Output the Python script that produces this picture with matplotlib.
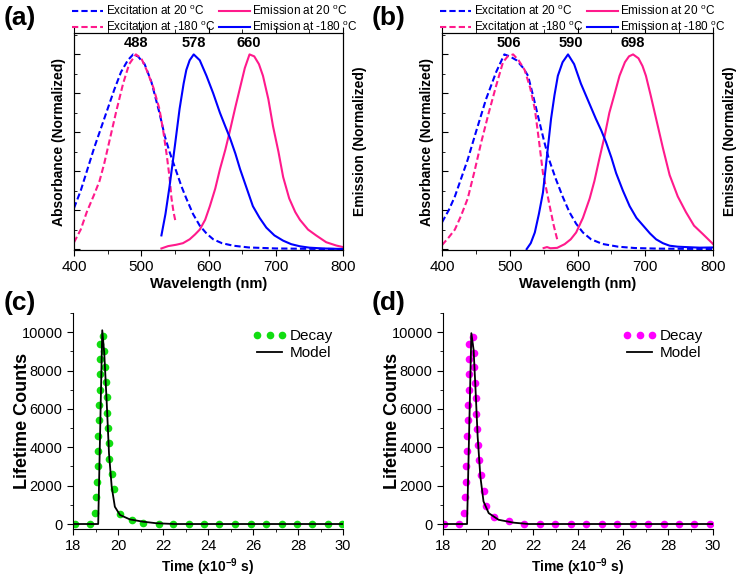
import matplotlib
matplotlib.use('Agg')
import matplotlib.pyplot as plt
from matplotlib.ticker import MultipleLocator, NullFormatter

plt.rcParams['font.family'] = ['Liberation Sans', 'DejaVu Sans']
plt.rcParams['mathtext.fontset'] = 'custom'
plt.rcParams['mathtext.rm'] = 'Liberation Sans'
plt.rcParams['mathtext.bf'] = 'Liberation Sans:bold'

BLUE = '#0000ff'
PINK = '#ff1a8c'

# ---- panel (a) spectra ----
a_exc20_x = [400, 410, 420, 430, 440, 450, 460, 470, 480, 488, 495, 505, 515, 527, 535, 542, 550,
             560, 567, 577, 587, 597, 607, 620, 637, 660, 700, 750, 800]
a_exc20_y = [0.21, 0.30, 0.41, 0.52, 0.62, 0.72, 0.82, 0.91, 0.97, 1.0, 0.99, 0.95, 0.86, 0.70, 0.58,
             0.50, 0.42, 0.32, 0.26, 0.18, 0.12, 0.08, 0.05, 0.03, 0.017, 0.008, 0.003, 0.001, 0.0]
a_exc180_x = [400, 410, 419, 430, 438, 445, 453, 463, 473, 482, 492, 500, 508, 518, 527, 533, 538,
              542, 545, 548, 551]
a_exc180_y = [0.034, 0.10, 0.19, 0.28, 0.35, 0.44, 0.56, 0.71, 0.85, 0.95, 1.0, 0.98, 0.92, 0.83,
              0.72, 0.60, 0.48, 0.37, 0.26, 0.19, 0.14]
a_em180_x = [530, 536, 542, 550, 557, 563, 567, 572, 578, 587, 597, 607, 617, 625, 632, 640, 647,
             656, 666, 676, 686, 698, 711, 723, 736, 750, 770, 800]
a_em180_y = [0.07, 0.18, 0.32, 0.53, 0.72, 0.85, 0.92, 0.97, 1.0, 0.97, 0.89, 0.80, 0.70, 0.63, 0.57,
             0.49, 0.41, 0.32, 0.22, 0.16, 0.11, 0.07, 0.043, 0.025, 0.014, 0.007, 0.003, 0.0]
a_em20_x = [530, 540, 552, 562, 572, 580, 587, 595, 602, 610, 617, 625, 632, 640, 647, 654, 661,
            668, 675, 681, 689, 696, 704, 711, 720, 729, 736, 748, 760, 775, 790, 800]
a_em20_y = [0.003, 0.015, 0.022, 0.03, 0.05, 0.075, 0.10, 0.15, 0.22, 0.31, 0.41, 0.51, 0.61, 0.73,
            0.83, 0.93, 1.0, 0.99, 0.95, 0.89, 0.77, 0.63, 0.50, 0.37, 0.26, 0.19, 0.15, 0.10, 0.07,
            0.035, 0.018, 0.01]
a_peaks = [492, 578, 660]
a_peak_labels = ['488', '578', '660']

# ---- panel (b) spectra ----
b_exc20_x = [400, 410, 419, 428, 438, 450, 465, 480, 492, 500, 510, 520, 527, 535, 544, 551, 558,
             568, 578, 588, 598, 608, 620, 637, 660, 685, 720, 800]
b_exc20_y = [0.137, 0.20, 0.27, 0.36, 0.46, 0.60, 0.77, 0.91, 1.0, 0.99, 0.97, 0.93, 0.89, 0.78,
             0.65, 0.55, 0.46, 0.36, 0.27, 0.19, 0.13, 0.085, 0.05, 0.026, 0.012, 0.005, 0.002, 0.0]
b_exc180_x = [400, 410, 419, 428, 438, 448, 458, 469, 480, 490, 497, 505, 513, 522, 530, 537, 543,
              549, 555, 559, 565, 570]
b_exc180_y = [0.02, 0.06, 0.10, 0.17, 0.26, 0.40, 0.55, 0.70, 0.84, 0.96, 0.99, 1.0, 0.97, 0.92,
              0.83, 0.72, 0.56, 0.39, 0.29, 0.22, 0.12, 0.05]
b_em180_x = [525, 531, 537, 543, 549, 555, 561, 566, 571, 578, 586, 595, 605, 616, 627, 635, 642,
             650, 657, 667, 677, 687, 697, 707, 716, 726, 736, 748, 760, 780, 800]
b_em180_y = [0.0, 0.03, 0.085, 0.18, 0.29, 0.48, 0.67, 0.79, 0.89, 0.96, 1.0, 0.95, 0.85, 0.76,
             0.67, 0.61, 0.55, 0.47, 0.39, 0.30, 0.22, 0.16, 0.12, 0.08, 0.05, 0.03, 0.017, 0.012,
             0.010, 0.007, 0.008]
b_em20_x = [550, 555, 560, 570, 581, 590, 598, 608, 618, 625, 632, 640, 647, 655, 662, 670, 676,
            682, 690, 696, 701, 708, 716, 726, 736, 748, 760, 772, 785, 800]
b_em20_y = [0.005, 0.01, 0.004, 0.006, 0.025, 0.05, 0.085, 0.16, 0.26, 0.35, 0.46, 0.58, 0.70,
            0.80, 0.89, 0.96, 0.99, 1.0, 0.98, 0.94, 0.89, 0.79, 0.67, 0.52, 0.38, 0.27, 0.19, 0.12,
            0.077, 0.026]
b_peaks = [499, 590, 682]
b_peak_labels = ['506', '590', '698']

# ---- panel (c) lifetime ----
c_decay_t = [18.10, 18.74, 18.99, 19.02, 19.06, 19.09, 19.10, 19.12, 19.15, 19.16, 19.18, 19.19,
             19.20, 19.22, 19.35, 19.40, 19.43, 19.48, 19.49, 19.51, 19.55, 19.58, 19.61, 19.73,
             19.80, 20.10, 20.62, 21.10, 21.80, 22.46, 23.14, 23.82, 24.50, 25.20, 25.89, 26.57,
             27.27, 27.96, 28.64, 29.33, 29.97]
c_decay_n = [0, 0, 600, 1400, 2200, 3000, 3800, 4600, 5400, 6200, 7000, 7800, 8600, 9400, 9800,
             9000, 8200, 7400, 6600, 5800, 5000, 4200, 3400, 2600, 1800, 500, 200, 50, 0, 0, 0, 0,
             0, 0, 0, 0, 0, 0, 0, 0, 0]
c_model_t = [18.0, 19.12, 19.30, 19.39, 19.50, 19.60, 19.72, 19.86, 20.09, 20.53, 21.12, 21.71,
             22.5, 30.0]
c_model_n = [0, 0, 10100, 8890, 6290, 3680, 1940, 900, 470, 240, 120, 40, 0, 0]

# ---- panel (d) lifetime ----
d_decay_t = [18.06, 18.70, 18.95, 18.99, 19.02, 19.04, 19.07, 19.08, 19.11, 19.11, 19.14, 19.16,
             19.16, 19.17, 19.32, 19.36, 19.38, 19.44, 19.45, 19.47, 19.51, 19.56, 19.61, 19.70,
             19.81, 19.93, 20.25, 20.92, 21.61, 22.30, 22.99, 23.67, 24.37, 25.07, 25.75, 26.43,
             27.13, 27.81, 28.50, 29.17, 29.85]
d_decay_n = [0, 0, 600, 1400, 2200, 3000, 3800, 4600, 5400, 6200, 7000, 7800, 8600, 9400, 9740,
             8940, 8160, 7340, 6560, 5750, 4950, 4130, 3320, 2530, 1740, 950, 350, 140, 0, 0, 0, 0,
             0, 0, 0, 0, 0, 0, 0, 0, 0]
d_model_t = [18.0, 19.07, 19.26, 19.36, 19.44, 19.54, 19.66, 19.80, 20.03, 20.47, 21.14, 21.8,
             30.0]
d_model_n = [0, 0, 9950, 9080, 7170, 4560, 2480, 1180, 570, 220, 70, 0, 0]

W, H = 740, 581
fig = plt.figure(figsize=(W / 100, H / 100), dpi=100)


def box(l, t, r, b):
    # pixel box (top-left origin) -> figure fraction
    return [l / W, 1 - b / H, (r - l) / W, (b - t) / H]


def spectra(rect, exc20, exc180, em20, em180, peaks, labels):
    ax = fig.add_axes(rect)
    dash = (3, 1.5)
    l1, = ax.plot(*exc20, color=BLUE, lw=1.5, dashes=dash, label='Excitation at 20 $^{\\rm o}$C')
    l2, = ax.plot(*exc180, color=PINK, lw=1.5, dashes=dash, label='Excitation at -180 $^{\\rm o}$C')
    l3, = ax.plot(*em20, color=PINK, lw=1.5, label='Emission at 20 $^{\\rm o}$C')
    l4, = ax.plot(*em180, color=BLUE, lw=1.5, label='Emission at -180 $^{\\rm o}$C')
    for x, s in zip(peaks, labels):
        ax.text(x, 1.025, s, ha='center', va='bottom', fontsize=10.5, fontweight='bold')
    ax.set_xlim(400, 800)
    ax.set_ylim(-0.005, 1.11)
    ax.xaxis.set_major_locator(MultipleLocator(100))
    ax.xaxis.set_minor_locator(MultipleLocator(50))
    ax.yaxis.set_major_locator(MultipleLocator(0.2))
    ax.yaxis.set_minor_locator(MultipleLocator(0.1))
    ax.yaxis.set_major_formatter(NullFormatter())
    ax.tick_params(axis='x', which='both', direction='out', top=True, labelsize=11)
    ax.tick_params(axis='x', which='major', length=4)
    ax.tick_params(axis='x', which='minor', length=3)
    ax.tick_params(axis='y', which='both', direction='in', left=True, right=True)
    ax.tick_params(axis='y', which='major', length=4)
    ax.tick_params(axis='y', which='minor', length=2.5)
    ax.set_xlabel('Wavelength (nm)', fontsize=10.5, fontweight='bold', labelpad=2)
    ax.set_ylabel('Absorbance (Normalized)', fontsize=10, fontweight='bold', labelpad=2)
    ax2 = ax.twinx()
    ax2.set_ylim(ax.get_ylim())
    ax2.set_yticks([])
    ax2.set_ylabel('Emission (Normalized)', fontsize=10, fontweight='bold', labelpad=7)
    ax.legend(handles=[l1, l2, l3, l4], loc='lower left', bbox_to_anchor=(-0.01, 0.99), ncol=2,
              frameon=False, fontsize=8.5, handlelength=2.6, handletextpad=0.2,
              columnspacing=0.4, labelspacing=0.15, borderpad=0, borderaxespad=0.1)
    for s in ax.spines.values():
        s.set_linewidth(0.8)
    return ax


def lifetime(rect, t, n, mt, mn, color):
    ax = fig.add_axes(rect)
    ax.plot(t, n, 'o', color=color, ms=5.5, mec='none', label='Decay')
    ax.plot(mt, mn, color='black', lw=1.3, label='Model')
    ax.set_xlim(18, 30)
    ax.set_ylim(-260, 11000)
    ax.xaxis.set_major_locator(MultipleLocator(2))
    ax.xaxis.set_minor_locator(MultipleLocator(1))
    ax.yaxis.set_major_locator(MultipleLocator(2000))
    ax.yaxis.set_minor_locator(MultipleLocator(1000))
    ax.spines['top'].set_visible(False)
    ax.spines['right'].set_visible(False)
    ax.tick_params(which='both', direction='out', labelsize=10.5)
    ax.tick_params(which='major', length=4)
    ax.tick_params(which='minor', length=2.5)
    ax.set_xlabel('Time (x10$^{\\mathbf{-9}}$ s)', fontsize=10, fontweight='bold', labelpad=2)
    ax.set_ylabel('Lifetime Counts', fontsize=13, fontweight='bold')
    ax.yaxis.set_label_coords(-0.155, 0.5)
    ax.legend(loc='upper right', bbox_to_anchor=(0.99, 0.96), frameon=False, fontsize=11,
              numpoints=3, handlelength=2.2, handletextpad=0.2, labelspacing=0.2,
              borderpad=0)
    return ax


spectra(box(74, 33, 343, 250), (a_exc20_x, a_exc20_y), (a_exc180_x, a_exc180_y),
        (a_em20_x, a_em20_y), (a_em180_x, a_em180_y), a_peaks, a_peak_labels)
spectra(box(442, 33, 713, 250), (b_exc20_x, b_exc20_y), (b_exc180_x, b_exc180_y),
        (b_em20_x, b_em20_y), (b_em180_x, b_em180_y), b_peaks, b_peak_labels)
lifetime(box(73, 313, 343, 529), c_decay_t, c_decay_n, c_model_t, c_model_n, '#11dd11')
lifetime(box(443, 313, 713, 529), d_decay_t, d_decay_n, d_model_t, d_model_n, '#ff00ff')

for (x, y, s) in [(4, 18, '(a)'), (372, 18, '(b)'), (4, 303, '(c)'), (372, 303, '(d)')]:
    fig.text(x / W, 1 - y / H, s, fontsize=19, fontweight='bold', va='center', ha='left')

fig.savefig('out.png', dpi=100)
